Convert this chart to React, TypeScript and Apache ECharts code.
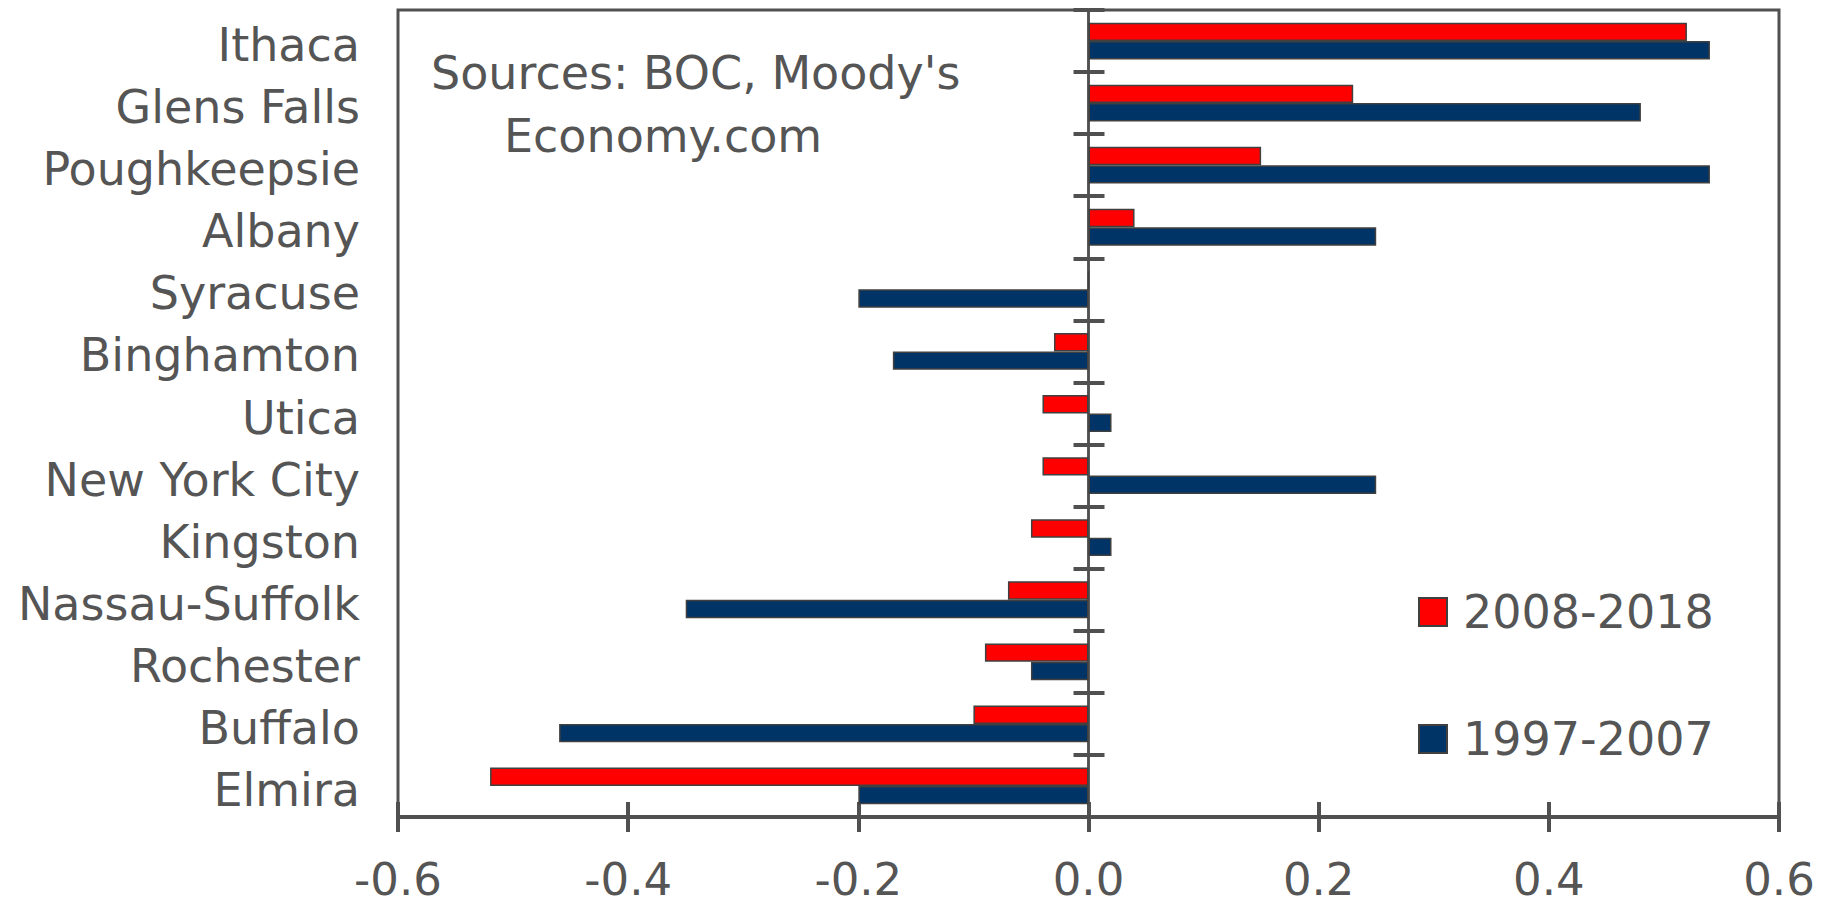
import React, { useEffect, useRef } from "react";
import * as echarts from "echarts";

const categories = [
  "Ithaca",
  "Glens Falls",
  "Poughkeepsie",
  "Albany",
  "Syracuse",
  "Binghamton",
  "Utica",
  "New York City",
  "Kingston",
  "Nassau-Suffolk",
  "Rochester",
  "Buffalo",
  "Elmira",
];

const series2008to2018 = [0.52, 0.23, 0.15, 0.04, 0, -0.03, -0.04, -0.04, -0.05, -0.07, -0.09, -0.1, -0.52];
const series1997to2007 = [0.54, 0.48, 0.54, 0.25, -0.2, -0.17, 0.02, 0.25, 0.02, -0.35, -0.05, -0.46, -0.2];

const seriesNames = ["2008-2018", "1997-2007"];
const sourceLines = ["Sources: BOC, Moody's", "Economy.com"];

const FONT = "'DejaVu Sans', Verdana, sans-serif";
const TEXT = "#555555";
const AXIS = "#505050";

export default function App() {
  const ref = useRef<HTMLDivElement>(null);

  useEffect(() => {
    if (!ref.current) return;
    const chart = echarts.init(ref.current, undefined, { renderer: "svg" });
    const valueAxisBase = {
      type: "value",
      min: -0.6,
      max: 0.6,
      interval: 0.2,
      splitLine: { show: false },
      position: "bottom",
    };
    chart.setOption({
      animation: false,
      backgroundColor: "#ffffff",
      textStyle: { fontFamily: FONT },
      grid: {
        left: 398,
        right: 54,
        top: 10,
        bottom: 88,
        show: true,
        borderColor: AXIS,
        borderWidth: 3,
        backgroundColor: "transparent",
      },
      legend: {
        orient: "vertical",
        left: 1418,
        top: 589,
        padding: 0,
        itemWidth: 28,
        itemHeight: 28,
        itemGap: 81,
        icon: "rect",
        data: seriesNames,
        textStyle: {
          fontSize: 46,
          lineHeight: 46,
          color: TEXT,
          fontFamily: FONT,
          padding: [0, 0, 0, 11],
        },
      },
      graphic: [
        {
          type: "text",
          x: 431,
          y: 73,
          style: {
            text: sourceLines[0],
            fontSize: 46,
            fontFamily: FONT,
            fill: TEXT,
            align: "left",
            verticalAlign: "middle",
          },
        },
        {
          type: "text",
          x: 504,
          y: 136,
          style: {
            text: sourceLines[1],
            fontSize: 46,
            fontFamily: FONT,
            fill: TEXT,
            align: "left",
            verticalAlign: "middle",
          },
        },
      ],
      xAxis: [
        {
          ...valueAxisBase,
          axisLine: { show: true, onZero: false, lineStyle: { color: AXIS, width: 4 } },
          axisTick: { show: true, inside: false, length: 15, lineStyle: { color: AXIS, width: 4 } },
          axisLabel: {
            fontSize: 45,
            lineHeight: 40,
            color: TEXT,
            fontFamily: FONT,
            margin: 42,
            formatter: (v: number) => v.toFixed(1),
          },
        },
        {
          ...valueAxisBase,
          axisLine: { show: false, onZero: false },
          axisTick: { show: true, inside: true, length: 15, lineStyle: { color: AXIS, width: 4 } },
          axisLabel: { show: false },
        },
      ],
      yAxis: [
        {
          type: "category",
          data: categories,
          inverse: true,
          position: "left",
          axisLine: { show: false, onZero: false },
          axisTick: { show: false },
          axisLabel: {
            fontSize: 46,
            color: TEXT,
            fontFamily: FONT,
            margin: 38,
            verticalAlign: "top",
            lineHeight: 8,
          },
        },
        {
          type: "category",
          data: categories,
          inverse: true,
          position: "left",
          axisLine: { show: true, onZero: true, onZeroAxisIndex: 0, lineStyle: { color: AXIS, width: 2.5 } },
          axisTick: { show: true, inside: false, length: 15, lineStyle: { color: AXIS, width: 4 } },
          axisLabel: { show: false },
        },
        {
          type: "category",
          data: categories,
          inverse: true,
          position: "left",
          axisLine: { show: true, onZero: true, onZeroAxisIndex: 0, lineStyle: { color: AXIS, width: 2.5 } },
          axisTick: { show: true, inside: true, length: 16, lineStyle: { color: AXIS, width: 4 } },
          axisLabel: { show: false },
        },
      ],
      series: [
        {
          name: seriesNames[0],
          type: "bar",
          data: series2008to2018,
          barWidth: 18.4,
          barGap: "0%",
          itemStyle: { color: "#ff0000", borderColor: "#404040", borderWidth: 1.5 },
        },
        {
          name: seriesNames[1],
          type: "bar",
          data: series1997to2007,
          barWidth: 18.4,
          barGap: "0%",
          itemStyle: { color: "#003366", borderColor: "#404040", borderWidth: 1.5 },
        },
      ],
    });
    return () => chart.dispose();
  }, []);

  return (
    <div
      ref={ref}
      style={{ position: "fixed", left: 0, top: 0, width: 1833, height: 905, background: "#fff" }}
    />
  );
}
